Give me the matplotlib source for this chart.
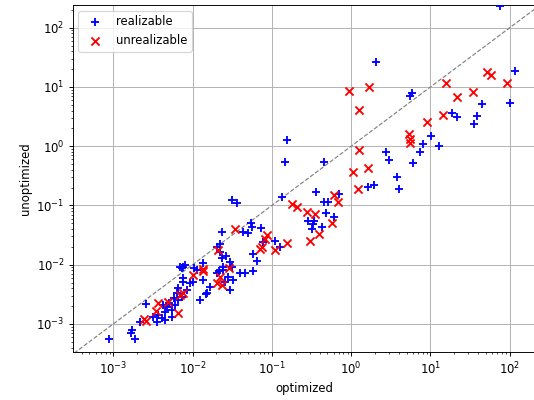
import matplotlib

matplotlib.use("Agg")
import matplotlib.pyplot as plt

# runtimes (s) of each benchmark, optimized vs unoptimized
realizable_opt = [
    75, 116, 100, 44, 18.5, 21.5, 38.6, 35.4, 2.04, 5.9, 5.5, 10.1, 12.9, 8.1, 7.4,
    2.77, 3.0, 5.97, 3.81, 4.04, 0.45, 0.154, 0.146, 0.133, 0.36, 0.454, 0.514, 0.70,
    0.476, 0.61, 0.288, 0.34, 0.327, 0.318, 0.428, 1.61, 1.94,
    0.0317, 0.036, 0.054, 0.0436, 0.0504, 0.0556, 0.073, 0.0237, 0.0221, 0.0264,
    0.0233, 0.0297, 0.024, 0.0766, 0.109, 0.126, 0.0586, 0.0655, 0.0573, 0.0458,
    0.0396, 0.0221, 0.0326, 0.0297, 0.0311, 0.0282, 0.0256, 0.0201, 0.0166, 0.0151,
    0.0124, 0.0136, 0.0102, 0.0113, 0.008, 0.0073, 0.00764, 0.00927, 0.00843,
    0.00764, 0.0066, 0.0063, 0.0073, 0.0066, 0.006, 0.00545, 0.00449, 0.00352,
    0.00407, 0.00369, 0.00319, 0.00217, 0.00257, 0.0017, 0.00188, 0.00167, 0.00088,
    0.0218, 0.0244, 0.0205, 0.00694, 0.00764, 0.0103, 0.0045, 0.0055, 0.0048, 0.005,
    0.0058, 0.0042, 0.0146, 0.0135,
]
realizable_unopt = [
    232, 18.8, 5.4, 5.15, 3.7, 3.1, 3.23, 2.37, 26, 7.8, 6.95, 1.49, 1.02, 1.09, 0.81,
    0.79, 0.585, 0.515, 0.306, 0.19, 0.534, 1.27, 0.534, 0.14, 0.167, 0.1146, 0.116,
    0.156, 0.0755, 0.063, 0.0547, 0.0547, 0.0487, 0.0396, 0.0428, 0.203, 0.219,
    0.1236, 0.109, 0.0513, 0.0361, 0.0339, 0.0428, 0.0422, 0.0361, 0.0224, 0.014,
    0.0128, 0.0113, 0.00906, 0.0245, 0.0255, 0.0201, 0.0152, 0.0117, 0.0079, 0.00716,
    0.00734, 0.0166, 0.00553, 0.00375, 0.00927, 0.0063, 0.00518, 0.00716, 0.00427,
    0.0033, 0.00254, 0.00553, 0.00518, 0.00815, 0.0099, 0.0087, 0.0059, 0.00486,
    0.00375, 0.00518, 0.004, 0.0033, 0.00289, 0.00254, 0.00209, 0.00172, 0.00161,
    0.00109, 0.00125, 0.00142, 0.00133, 0.00109, 0.00217, 0.00079, 0.000558,
    0.000705, 0.000558, 0.0078, 0.0081, 0.0201, 0.00906, 0.00927, 0.0087, 0.00115,
    0.0013, 0.0019, 0.0023, 0.0027, 0.0021, 0.0032, 0.0107,
]

unrealizable_opt = [
    0.94, 1.66, 1.26, 15.7, 21.4, 34.7, 51, 57.4, 91.4, 14.5, 8.95, 5.36, 5.5, 5.5,
    1.26, 1.06, 1.61, 1.23, 0.178, 0.209, 0.275, 0.35, 0.60, 0.676, 0.57, 0.393,
    0.303, 0.0343, 0.0211, 0.086, 0.0818, 0.0743, 0.0708, 0.109, 0.154, 0.0134,
    0.0221, 0.0201, 0.0233, 0.0136, 0.0102, 0.00764, 0.00694, 0.00494, 0.0037,
    0.00343, 0.00649, 0.00246, 0.0026, 0.029,
]
unrealizable_unopt = [
    8.55, 10.1, 4.08, 11.5, 6.8, 8.2, 18.1, 15.9, 11.5, 3.37, 2.6, 1.61, 1.34, 1.15,
    0.863, 0.363, 0.424, 0.19, 0.106, 0.093, 0.0785, 0.0718, 0.150, 0.113, 0.0512,
    0.033, 0.0255, 0.040, 0.0177, 0.0318, 0.0269, 0.0202, 0.0182, 0.0177, 0.0236,
    0.00838, 0.0063, 0.00486, 0.00455, 0.00793, 0.00671, 0.00337, 0.00308, 0.00238,
    0.00223, 0.00168, 0.00151, 0.00121, 0.00112, 0.0089,
]

x_limits = (3.08e-4, 214)
y_limits = (3.30e-4, 242)

fig = plt.figure(figsize=(534.01 / 83.4, 400.01 / 83.4), dpi=83.4)
ax = fig.add_axes([0.1361, 0.1188, 0.8676, 0.8688])

ax.plot([1e-5, 1e4], [1e-5, 1e4], "--", color="gray", linewidth=1.0)
ax.scatter(realizable_opt, realizable_unopt, marker="+", s=49, linewidths=1.6,
           color="blue", label="realizable", zorder=3)
ax.scatter(unrealizable_opt, unrealizable_unopt, marker="x", s=49, linewidths=1.6,
           color="red", label="unrealizable", zorder=3)

ax.set_xscale("log")
ax.set_yscale("log")
ax.set_xlim(*x_limits)
ax.set_ylim(*y_limits)
ax.grid(True)
ax.set_axisbelow(True)
ax.set_xlabel("optimized")
ax.set_ylabel("unoptimized")
ax.legend(loc="upper left")

fig.savefig("out.png", dpi=83.4)
